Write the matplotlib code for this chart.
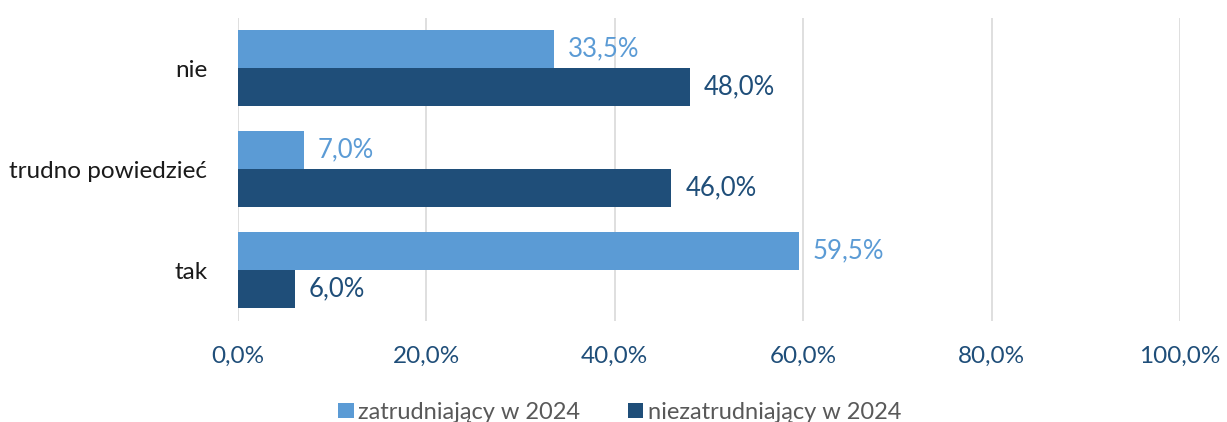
import matplotlib.pyplot as plt
import numpy as np

plt.rcParams['font.family'] = ['Lato', 'DejaVu Sans']

# dane
categories = ['tak', 'trudno powiedzieć', 'nie']
zatrudniajacy = [59.5, 7.0, 33.5]
niezatrudniajacy = [6.0, 46.0, 48.0]
series_names = ['zatrudniający w 2024', 'niezatrudniający w 2024']
xticks = [0, 20, 40, 60, 80, 100]

light = '#5B9BD5'
dark = '#1F4E79'

fig = plt.figure(figsize=(12.27, 4.22), dpi=100)
ax = fig.add_axes([0.194, 0.2405, 0.7677, 0.718])

y = np.arange(len(categories))
h = 0.38
b1 = ax.barh(y + h / 2, zatrudniajacy, height=h, color=light, label=series_names[0])
b2 = ax.barh(y - h / 2, niezatrudniajacy, height=h, color=dark, label=series_names[1])

for bars, vals, col in [(b1, zatrudniajacy, light), (b2, niezatrudniajacy, dark)]:
    for bar, v in zip(bars, vals):
        ax.annotate(f'{v:.1f}%'.replace('.', ','),
                    (v, bar.get_y() + bar.get_height() / 2),
                    xytext=(10, 0), textcoords='offset points',
                    ha='left', va='center', fontsize=18.5, color=col)

ax.set_xlim(0, 100)
ax.set_ylim(-0.5, 2.5)
ax.set_xticks(xticks)
ax.set_xticklabels([f'{t:.1f}%'.replace('.', ',') for t in xticks],
                   fontsize=17.5, color=dark)
ax.set_yticks(y)
ax.set_yticklabels(categories, fontsize=17.5, color='#1a1a1a')
ax.tick_params(axis='both', length=0)
ax.tick_params(axis='x', pad=18)
ax.tick_params(axis='y', pad=22)
for s in ax.spines.values():
    s.set_visible(False)
ax.grid(axis='x', color='#D9D9D9', linewidth=1.2)
ax.set_axisbelow(True)

fig.legend(handles=[b1, b2], loc='lower center', bbox_to_anchor=(0.505, -0.052),
           ncol=2, frameon=False, fontsize=17, labelcolor='#595959',
           handlelength=0.65, handleheight=0.65, handletextpad=0.2, columnspacing=2.0)

fig.savefig('out.png', dpi=100)
